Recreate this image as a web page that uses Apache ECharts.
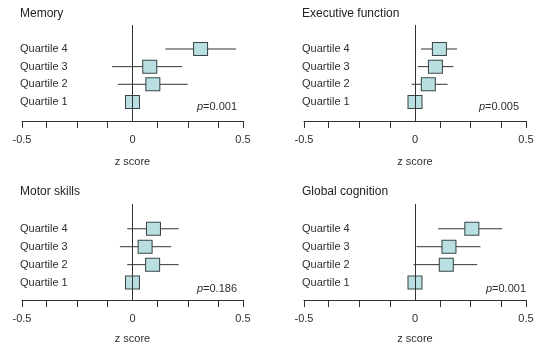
<!DOCTYPE html>
<html>
<head>
<meta charset="utf-8">
<script src="https://cdn.jsdelivr.net/npm/echarts@6/dist/echarts.min.js"></script>
<style>
html,body{margin:0;padding:0;background:#fff;}
#chart{width:543px;height:348px;}
</style>
</head>
<body>
<div id="chart"></div>
<script>
const quartiles = ['Quartile 1', 'Quartile 2', 'Quartile 3', 'Quartile 4'];
const quartilePos = [1, 2, 3, 4];
const panelTitles = ['Memory', 'Executive function', 'Motor skills', 'Global cognition'];
const pValues = ['0.001', '0.005', '0.186', '0.001'];

const memoryEst = [0, 0.092, 0.078, 0.308];
const memoryLo  = [null, -0.066, -0.092, 0.149];
const memoryHi  = [null, 0.250, 0.225, 0.468];

const execEst = [0, 0.060, 0.092, 0.110];
const execLo  = [null, -0.015, 0.012, 0.027];
const execHi  = [null, 0.147, 0.173, 0.189];

const motorEst = [0, 0.091, 0.057, 0.095];
const motorLo  = [null, -0.024, -0.057, -0.024];
const motorHi  = [null, 0.209, 0.175, 0.209];

const globalEst = [0, 0.141, 0.153, 0.256];
const globalLo  = [null, -0.006, 0.007, 0.105];
const globalHi  = [null, 0.280, 0.295, 0.393];

const xTickValues = [-0.5, -0.39, -0.25, -0.113, 0.113, 0.25, 0.39, 0.5];
const xLabelValues = [-0.5, 0, 0.5];
const xAxisName = 'z score';
const referenceValue = 0;

const panels = [
  {est: memoryEst, lo: memoryLo, hi: memoryHi},
  {est: execEst, lo: execLo, hi: execHi},
  {est: motorEst, lo: motorLo, hi: motorHi},
  {est: globalEst, lo: globalLo, hi: globalHi}
];

const FONT = '"Liberation Sans", Arial, Helvetica, sans-serif';
const TXT = '#2e2e2e';
const LINE = '#333333';

const gridBoxes = [
  {left: 22, top: 25, width: 221, height: 96},
  {left: 304, top: 25, width: 222, height: 96},
  {left: 22, top: 204, width: 221, height: 96},
  {left: 304, top: 204, width: 222, height: 96}
];
const yRanges = [[-0.08, 5.36], [-0.08, 5.36], [0.03, 5.38], [0.03, 5.38]];
const titlePos = [
  {left: 20, top: 8}, {left: 302, top: 8}, {left: 20, top: 186}, {left: 302, top: 186}
];
const pPos = [
  {right: 306, top: 101}, {right: 24, top: 101}, {right: 306, top: 283}, {right: 17, top: 283}
];
const nameGaps = [35, 35, 33, 33];

const option = {
  animation: false,
  backgroundColor: '#ffffff',
  textStyle: {fontFamily: FONT},
  title: [],
  grid: [],
  xAxis: [],
  yAxis: [],
  series: []
};

panels.forEach((p, i) => {
  const g = gridBoxes[i];
  option.grid.push({left: g.left, top: g.top, width: g.width, height: g.height,
    containLabel: false, outerBoundsMode: 'none', show: false});
  option.title.push({
    text: panelTitles[i], left: titlePos[i].left, top: titlePos[i].top, padding: 0,
    textStyle: {fontSize: 12, fontWeight: 'normal', color: '#222', fontFamily: FONT}
  });
  option.title.push({
    text: '{i|p}=' + pValues[i], right: pPos[i].right, top: pPos[i].top, padding: 0,
    textStyle: {fontSize: 11, fontWeight: 'normal', color: TXT, fontFamily: FONT,
      rich: {i: {fontStyle: 'italic', fontSize: 11, color: TXT, fontFamily: FONT}}}
  });
  option.xAxis.push({
    type: 'value', gridIndex: i, min: -0.5, max: 0.5,
    axisLine: {show: true, onZero: false, lineStyle: {color: LINE, width: 1}},
    axisTick: {show: true, inside: false, length: 7, customValues: xTickValues, lineStyle: {color: LINE, width: 1}},
    axisLabel: {customValues: xLabelValues, margin: 13, fontSize: 11, color: TXT, fontFamily: FONT,
      formatter: v => (Math.abs(v) < 1e-9 ? '0' : String(v))},
    splitLine: {show: false},
    name: xAxisName, nameLocation: 'middle', nameGap: nameGaps[i],
    nameTextStyle: {fontSize: 11, color: TXT, fontFamily: FONT}
  });
  option.yAxis.push({
    type: 'value', gridIndex: i, min: yRanges[i][0], max: yRanges[i][1],
    axisLine: {show: false, onZero: false},
    axisTick: {show: false},
    axisLabel: {customValues: quartilePos, align: 'left', margin: 2,
      fontSize: 11, color: TXT, fontFamily: FONT,
      formatter: v => quartiles[Math.round(v) - 1] || ''},
    splitLine: {show: false}
  });
  const ciData = [];
  const boxData = [];
  quartilePos.forEach((y, k) => {
    if (p.lo[k] != null) ciData.push([p.lo[k], p.hi[k], y]);
    boxData.push([p.est[k], y]);
  });
  option.series.push({
    type: 'custom', xAxisIndex: i, yAxisIndex: i, z: 2,
    encode: {x: [0, 1], y: 2},
    data: ciData,
    renderItem: (params, api) => {
      const a = api.coord([api.value(0), api.value(2)]);
      const b = api.coord([api.value(1), api.value(2)]);
      return {type: 'line', shape: {x1: a[0], y1: a[1], x2: b[0], y2: b[1]},
        style: {stroke: LINE, lineWidth: 1}};
    },
    markLine: {
      silent: true, symbol: 'none', animation: false,
      label: {show: false},
      lineStyle: {color: LINE, width: 1, type: 'solid'},
      emphasis: {disabled: true},
      data: [{xAxis: referenceValue}]
    }
  });
  option.series.push({
    type: 'scatter', xAxisIndex: i, yAxisIndex: i, z: 3,
    symbol: 'rect', symbolSize: [14, 13],
    itemStyle: {color: '#b9dfe2', borderColor: '#3a4646', borderWidth: 1, opacity: 1},
    data: boxData
  });
});

const chart = echarts.init(document.getElementById('chart'), null, {renderer: 'canvas'});
chart.setOption(option);
</script>
</body>
</html>
